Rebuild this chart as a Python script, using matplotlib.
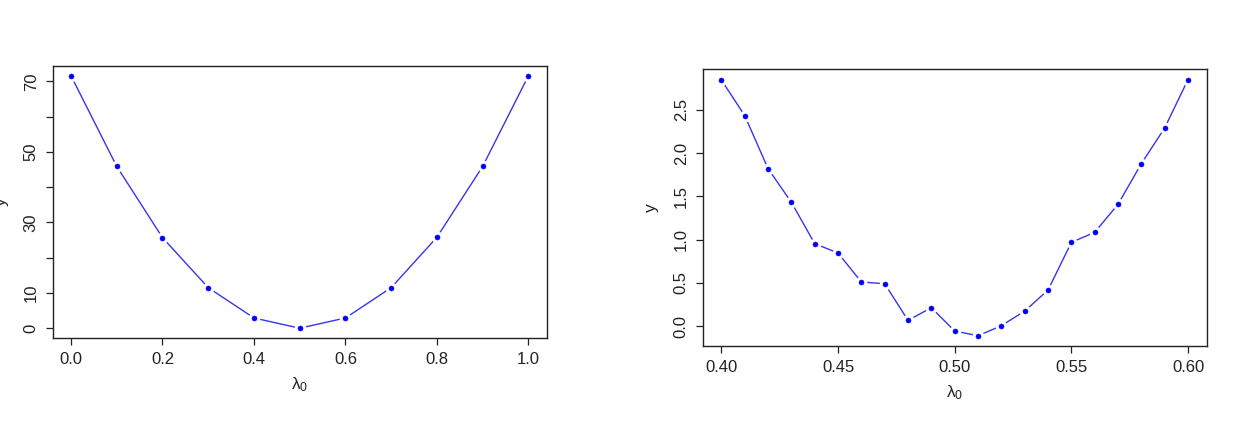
import matplotlib
matplotlib.use("Agg")
import matplotlib.pyplot as plt

plt.rcParams['font.family'] = ['Liberation Sans', 'DejaVu Sans']
plt.rcParams['mathtext.fontset'] = 'custom'
plt.rcParams['mathtext.rm'] = 'Liberation Sans'
plt.rcParams['mathtext.it'] = 'Liberation Sans'

# Left panel data
x_left = [0.0, 0.1, 0.2, 0.3, 0.4, 0.5, 0.6, 0.7, 0.8, 0.9, 1.0]
y_left = [71.6, 45.9, 25.7, 11.5, 2.9, 0.0, 2.9, 11.5, 25.8, 45.9, 71.6]
left_xticks = [0.0, 0.2, 0.4, 0.6, 0.8, 1.0]
left_xticklabels = ["0.0", "0.2", "0.4", "0.6", "0.8", "1.0"]
left_yticks = [0, 10, 20, 30, 40, 50, 60, 70]
left_yticklabels = ["0", "10", "", "30", "", "50", "", "70"]

# Right panel data
x_right = [0.40, 0.41, 0.42, 0.43, 0.44, 0.45, 0.46, 0.47, 0.48, 0.49, 0.50,
           0.51, 0.52, 0.53, 0.54, 0.55, 0.56, 0.57, 0.58, 0.59, 0.60]
y_right = [2.844, 2.432, 1.819, 1.430, 0.952, 0.844, 0.509, 0.489, 0.066, 0.212, -0.058,
           -0.112, 0.004, 0.173, 0.416, 0.967, 1.083, 1.407, 1.877, 2.289, 2.848]
right_xticks = [0.40, 0.45, 0.50, 0.55, 0.60]
right_xticklabels = ["0.40", "0.45", "0.50", "0.55", "0.60"]
right_yticks = [0.0, 0.5, 1.0, 1.5, 2.0, 2.5]
right_yticklabels = ["0.0", "0.5", "1.0", "1.5", "2.0", "2.5"]

W, H = 1249, 426
fig = plt.figure(figsize=(W / 100, H / 100), dpi=100)


def px_axes(x0, y0, x1, y1):
    return fig.add_axes([x0 / W, 1 - y1 / H, (x1 - x0) / W, (y1 - y0) / H])


def r_lim(vals):
    lo, hi = min(vals), max(vals)
    d = (hi - lo) * 0.04
    return lo - d, hi + d


def draw(ax, xs, ys, xt, xtl, yt, ytl):
    ax.plot(xs, ys, color='#3535ee', lw=1.0, zorder=2)
    ax.plot(xs, ys, ls='none', marker='o', ms=3.4, mfc='blue', mec='white',
            mew=5.0, zorder=3)
    ax.plot(xs, ys, ls='none', marker='o', ms=3.6, mfc='blue', mec='blue',
            mew=0.4, zorder=4)
    ax.set_xlim(*r_lim(xs))
    ax.set_ylim(*r_lim(ys))
    ax.set_xticks(xt)
    ax.set_xticklabels(xtl)
    ax.set_yticks(yt)
    ax.set_yticklabels(ytl, rotation=90, va='center')
    ax.tick_params(direction='out', length=5, width=0.9, colors='#222222',
                   labelsize=12, pad=5)
    for s in ax.spines.values():
        s.set_linewidth(1.0)
        s.set_color('#222222')
    ax.set_xlabel(r'$\lambda_0$', fontsize=12.5, color='#222222', labelpad=6)
    ax.set_ylabel('y', fontsize=12.5, color='#222222', labelpad=11)


ax1 = px_axes(52.7, 65.7, 546.7, 338.3)
draw(ax1, x_left, y_left, left_xticks, left_xticklabels, left_yticks, left_yticklabels)

ax2 = px_axes(702.7, 69.3, 1206.7, 346.0)
draw(ax2, x_right, y_right, right_xticks, right_xticklabels, right_yticks, right_yticklabels)

fig.savefig('out.png', dpi=100)
